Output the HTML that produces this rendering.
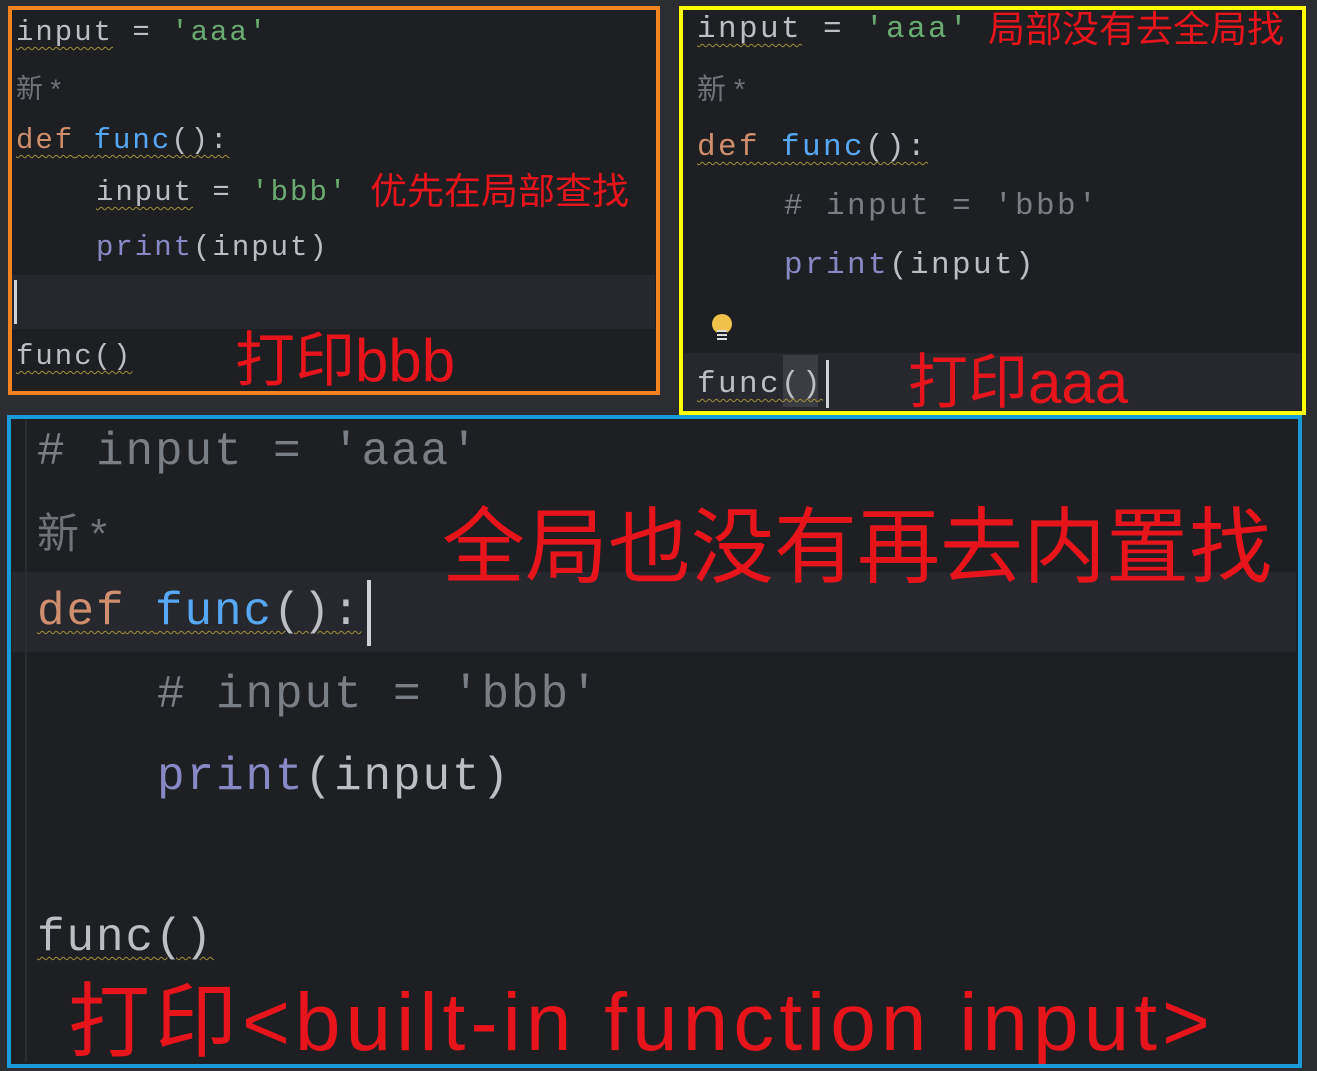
<!DOCTYPE html>
<html><head><meta charset="utf-8"><style>
*{margin:0;padding:0;box-sizing:border-box}
body{width:1317px;height:1070px;background:#2b2d30;position:relative;overflow:hidden;font-family:"Liberation Mono",monospace}
.p{position:absolute;background:#1e1f22}
.hl{position:absolute;background:#26282e}
.l{position:absolute;white-space:pre;color:#bcbec4}
.s{color:#6aab73}.k{color:#cf8e6d}.f{color:#56a8f5}.pr{color:#8888c6}.c{color:#7a7e85}.g{color:#6f737a}
.w{text-decoration:underline wavy #a48f3c;text-decoration-thickness:1px;text-underline-offset:6px}
.r{position:absolute;white-space:nowrap;color:#e8141c;font-family:"Liberation Sans","Noto Sans CJK SC",sans-serif}
.box{position:absolute;border:4px solid}
.cjk{font-family:"Liberation Sans","Noto Sans CJK SC",sans-serif}
</style></head><body>
<!-- top-left panel -->
<div class="p" style="left:8px;top:6px;width:651px;height:388px"></div>
<div class="hl" style="left:12px;top:275px;width:643px;height:54px"></div>
<div style="position:absolute;left:14px;top:280px;width:3px;height:44px;background:#cfd1d6"></div>
<div class="l" style="left:16px;top:14px;font-size:29px;letter-spacing:2px;line-height:38px"><span class="w">input</span> = <span class="s">'aaa'</span></div>
<div class="l g cjk" style="left:16px;top:70px;font-size:27px;line-height:38px">新 *</div>
<div class="l" style="left:16px;top:122px;font-size:29px;letter-spacing:2px;line-height:38px"><span class="w"><span class="k">def</span> <span class="f">func</span>():</span></div>
<div class="l" style="left:96px;top:174px;font-size:29px;letter-spacing:2px;line-height:38px"><span class="w">input</span> = <span class="s">'bbb'</span></div>
<div class="l" style="left:96px;top:229px;font-size:29px;letter-spacing:2px;line-height:38px"><span class="pr">print</span>(input)</div>
<div class="l" style="left:16px;top:338px;font-size:29px;letter-spacing:2px;line-height:38px"><span class="w">func()</span></div>
<div class="r" style="left:370px;top:168px;font-size:37px;line-height:48px">优先在局部查找</div>
<div class="r" style="left:235px;top:326px;font-size:60px;line-height:70px">打印bbb</div>
<div class="box" style="left:8px;top:6px;width:652px;height:389px;border-color:#f58220"></div>

<!-- top-right panel -->
<div class="p" style="left:680px;top:7px;width:625px;height:407px"></div>
<div class="hl" style="left:684px;top:353px;width:617px;height:57px"></div>
<div style="position:absolute;left:783px;top:355px;width:35px;height:52px;background:#3b3d42"></div>
<div style="position:absolute;left:826px;top:360px;width:3px;height:48px;background:#cfd1d6"></div>
<div class="l" style="left:697px;top:10px;font-size:31px;letter-spacing:2.4px;line-height:40px"><span class="w">input</span> = <span class="s">'aaa'</span></div>
<div class="l g cjk" style="left:697px;top:70px;font-size:29px;line-height:40px">新 *</div>
<div class="l" style="left:697px;top:128px;font-size:31px;letter-spacing:2.4px;line-height:40px"><span class="w"><span class="k">def</span> <span class="f">func</span>():</span></div>
<div class="l c" style="left:784px;top:187px;font-size:31px;letter-spacing:2.4px;line-height:40px"># input = 'bbb'</div>
<div class="l" style="left:784px;top:246px;font-size:31px;letter-spacing:2.4px;line-height:40px"><span class="pr">print</span>(input)</div>
<div style="position:absolute;left:712px;top:314px;width:20px;height:20px;border-radius:50%;background:#f0c14b"></div>
<div style="position:absolute;left:717px;top:330px;width:10px;height:12px;background:repeating-linear-gradient(#dcdcdc 0 2px,#1e1f22 2px 4px)"></div>
<div class="l" style="left:697px;top:365px;font-size:31px;letter-spacing:2.4px;line-height:40px"><span class="w">func()</span></div>
<div class="r" style="left:988px;top:6px;font-size:37px;line-height:48px">局部没有去全局找</div>
<div class="r" style="left:908px;top:348px;font-size:60px;line-height:70px">打印aaa</div>
<div class="box" style="left:679px;top:6px;width:627px;height:409px;border-color:#ffff00"></div>

<!-- bottom panel -->
<div class="p" style="left:8px;top:416px;width:1292px;height:650px"></div>
<div class="hl" style="left:12px;top:572px;width:1284px;height:80px"></div>
<div style="position:absolute;left:25px;top:420px;width:2px;height:642px;background:#2b2d30"></div>
<div style="position:absolute;left:367px;top:580px;width:4px;height:66px;background:#cfd1d6"></div>
<div class="l c" style="left:37px;top:424px;font-size:46px;letter-spacing:1.9px;line-height:56px"># input = 'aaa'</div>
<div class="l g cjk" style="left:37px;top:506px;font-size:42px;line-height:56px">新 *</div>
<div class="l" style="left:37px;top:584px;font-size:46px;letter-spacing:1.9px;line-height:56px"><span class="w"><span class="k">def</span> <span class="f">func</span>():</span></div>
<div class="l c" style="left:157px;top:667px;font-size:46px;letter-spacing:1.9px;line-height:56px"># input = 'bbb'</div>
<div class="l" style="left:157px;top:749px;font-size:46px;letter-spacing:1.9px;line-height:56px"><span class="pr">print</span>(input)</div>
<div class="l" style="left:37px;top:910px;font-size:46px;letter-spacing:1.9px;line-height:56px"><span class="w">func()</span></div>
<div class="r" style="left:442px;top:498px;font-size:83px;line-height:100px">全局也没有再去内置找</div>
<div class="r" style="left:68px;top:975px;font-size:82px;line-height:96px;letter-spacing:5px">打印&lt;built-in function input&gt;</div>
<div class="box" style="left:7px;top:415px;width:1295px;height:653px;border-color:#1a9ad6"></div>
</body></html>
